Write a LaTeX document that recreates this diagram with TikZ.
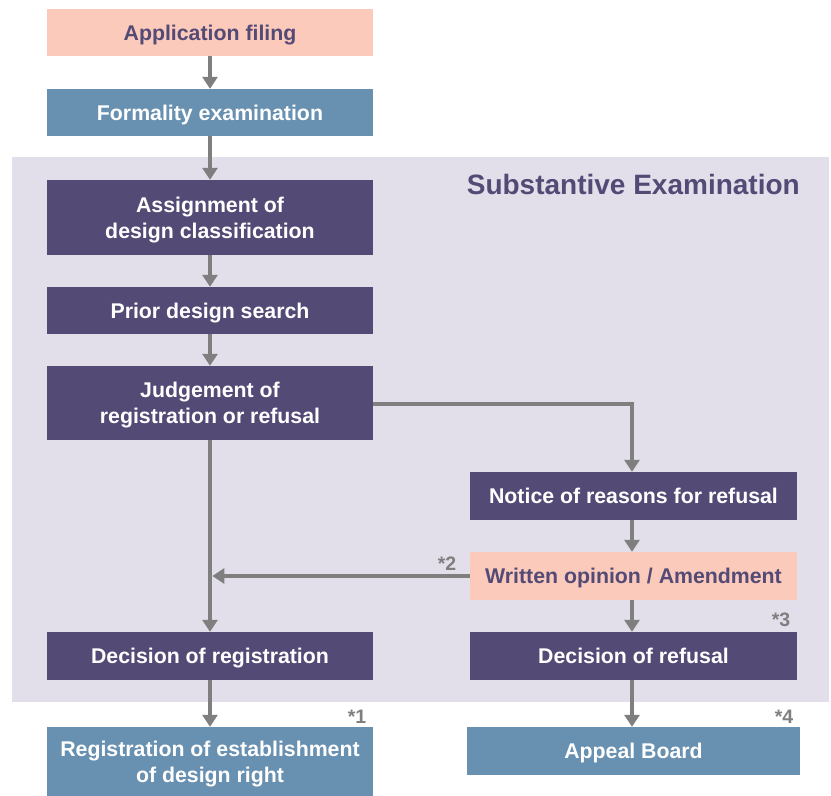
\documentclass[tikz,border=0pt]{standalone}
\usepackage{fontspec}
\setmainfont{Liberation Sans}
\usetikzlibrary{arrows.meta}
\definecolor{pinkbox}{HTML}{FBCABB}
\definecolor{bluebox}{HTML}{6890B0}
\definecolor{purplebox}{HTML}{534A75}
\definecolor{panel}{HTML}{E2DFEB}
\definecolor{arrowgray}{HTML}{7F7F7F}
\tikzset{
  box/.style={minimum width=326pt, inner sep=0pt, align=center, text depth=0pt,
    font=\fontsize{21.3}{26}\selectfont\bfseries},
  pinkb/.style={box, fill=pinkbox, text=purplebox},
  blueb/.style={box, fill=bluebox, text=white},
  purpleb/.style={box, fill=purplebox, text=white},
  flow/.style={line width=4.6pt, draw=arrowgray,
    -{Triangle[width=15pt,length=12pt]}},
  note/.style={text=arrowgray, font=\fontsize{19.5}{20}\selectfont\bfseries, inner sep=0pt}
}
\begin{document}
\begin{tikzpicture}[x=1pt,y=-1pt]
\useasboundingbox (0,0) rectangle (831,796);
\fill[panel] (12,157) rectangle (829,702);
\node[anchor=east, text=purplebox, font=\fontsize{28}{30}\selectfont\bfseries, inner sep=0pt] (title) at (800,184) {Substantive Examination};

\node[pinkb, minimum height=47pt] (app) at (210,32.5) {Application filing};
\node[blueb, minimum height=47pt] (form) at (210,112.5) {Formality examination};
\node[purpleb, minimum height=75pt] (assign) at (210,217.5) {Assignment of\\design classification};
\node[purpleb, minimum height=47pt] (prior) at (210,310.5) {Prior design search};
\node[purpleb, minimum height=74pt] (judge) at (210,403) {Judgement of\\registration or refusal};
\node[purpleb, minimum width=327pt, minimum height=48pt] (notice) at (633.5,496) {Notice of reasons for refusal};
\node[pinkb, minimum width=327pt, minimum height=48pt] (written) at (633.5,576) {Written opinion / Amendment};
\node[purpleb, minimum height=48pt] (decreg) at (210,656) {Decision of registration};
\node[purpleb, minimum width=327pt, minimum height=48pt] (decref) at (633.5,656) {Decision of refusal};
\node[blueb, minimum height=69pt] (regest) at (210,761.5) {Registration of establishment\\of design right};
\node[blueb, minimum width=333pt, minimum height=48pt] (appeal) at (633.5,751) {Appeal Board};

\coordinate (join) at (210,576);
\coordinate (turn) at (632,404);

\draw[flow] (app) -- (form);
\draw[flow] (form) -- (assign);
\draw[flow] (assign) -- (prior);
\draw[flow] (prior) -- (judge);
\draw[flow] (judge) -- (decreg);
\draw[flow] (decreg) -- (regest);
\draw[flow] (judge.east |- turn) -- (turn) -- (turn |- notice.north);
\draw[flow] (notice.south -| turn) -- (turn |- written.north);
\draw[flow] (written.south -| turn) -- (turn |- decref.north);
\draw[flow] (decref.south -| turn) -- (turn |- appeal.north);
\draw[flow] (written.west) -- ([xshift=2.3pt]join);

\node[note] (n1) at (357,717) {*1};
\node[note] (n2) at (447,564) {*2};
\node[note] (n3) at (781,620) {*3};
\node[note] (n4) at (784,717) {*4};
\end{tikzpicture}
\end{document}
